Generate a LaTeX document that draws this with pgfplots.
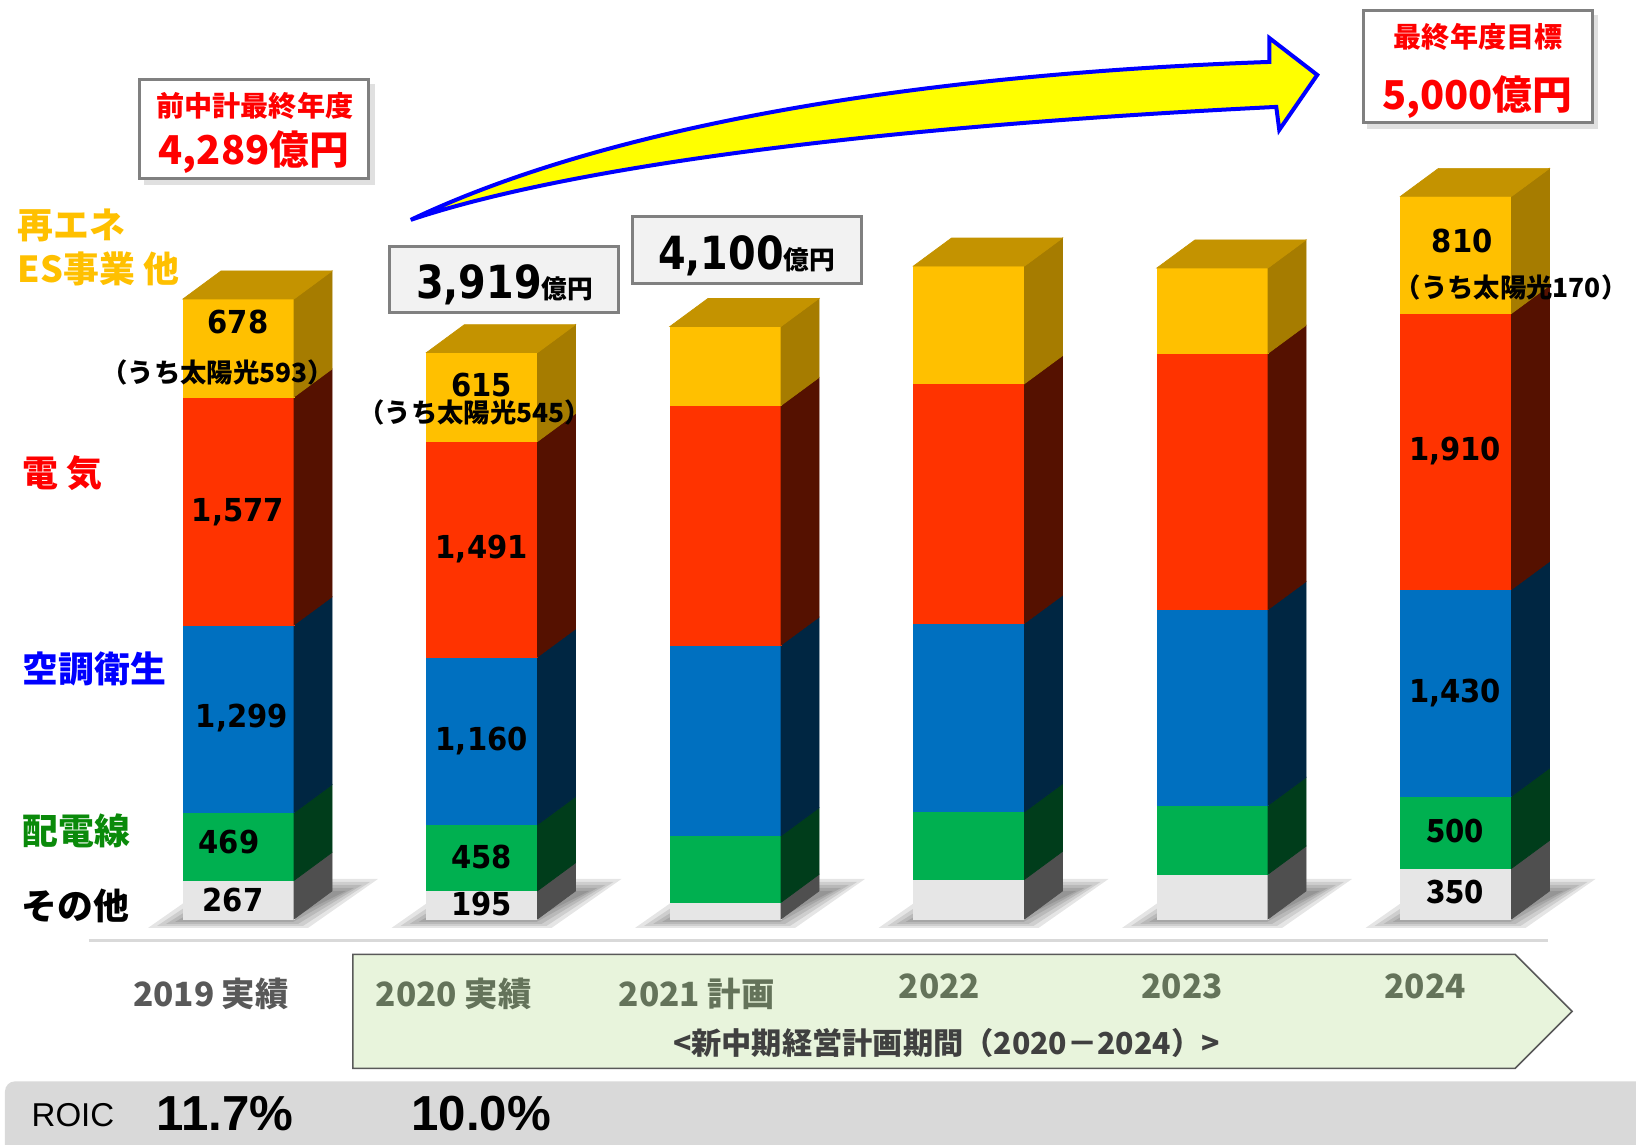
\documentclass[border=0pt]{standalone}
\usepackage{pgfplots}
\pgfplotsset{compat=1.18}
\usepackage{pgfplotstable}
\usepackage{fontspec}
\setmainfont{DejaVu Sans}
\newfontfamily\jp{Noto Sans CJK JP}
\newfontfamily\lib{Liberation Sans}

\definecolor{yF}{HTML}{FFC000}
\definecolor{yS}{HTML}{A67C00}
\definecolor{yT}{HTML}{C49300}
\definecolor{rF}{HTML}{FF3300}
\definecolor{rS}{HTML}{551100}
\definecolor{bF}{HTML}{0070C0}
\definecolor{bS}{HTML}{002642}
\definecolor{gF}{HTML}{00B050}
\definecolor{gS}{HTML}{003D1B}
\definecolor{oF}{HTML}{E6E6E6}
\definecolor{oS}{HTML}{4F4F4F}
\definecolor{boxB}{HTML}{808080}
\definecolor{boxF}{HTML}{F2F2F2}
\definecolor{pentF}{HTML}{E8F4DC}
\definecolor{pentT}{HTML}{64735A}
\definecolor{bandF}{HTML}{D9D9D9}
\definecolor{labG}{HTML}{0A8A0A}
\definecolor{arrY}{HTML}{FFFF00}
\definecolor{arrB}{HTML}{0000FF}

\pgfplotstableread{
row other dist hvac elec renew
0 267 469 1299 1577 678
1 195 458 1160 1491 615
2 115 461 1319 1658 547
3 274 468 1304 1658 814
4 310 476 1355 1773 591
5 350 500 1430 1910 810
}\sales

\newcommand\fs[1]{\fontsize{#1}{#1}\selectfont}
\def\hw{0.22793}
\def\ddx{0.15606}
\def\ddy{193.7}

\newcommand\segment[3]{%
  \pgfplotstablegetelem{\r}{#1}\of\sales
  \pgfmathsetmacro\lo{\cum}%
  \pgfmathsetmacro\hi{\cum+\pgfplotsretval}%
  \pgfmathsetmacro\lob{\lo+\ddy}%
  \pgfmathsetmacro\hib{\hi+\ddy}%
  \edef\tmp{%
    \noexpand\addplot[fill=#2,draw=#2,line width=0.2pt,forget plot] coordinates {(\xl,\lo) (\xr,\lo) (\xr,\hi) (\xl,\hi)} -- cycle;%
    \noexpand\addplot[fill=#3,draw=#3,line width=0.2pt,forget plot] coordinates {(\xr,\lo) (\xb,\lob) (\xb,\hib) (\xr,\hi)} -- cycle;%
  }\tmp
  \let\cum\hi
}
\newcommand\shadowlayer[1]{%
  \pgfmathsetmacro\sAx{\r-\hw+(-35+9*#1)/243.5}%
  \pgfmathsetmacro\sBx{\r-\hw+(125-5*#1)/243.5}%
  \pgfmathsetmacro\sCx{\r-\hw+(195-8*#1)/243.5}%
  \pgfmathsetmacro\sDx{\r-\hw+(35+5*#1)/243.5}%
  \pgfmathsetmacro\sLo{-(9-2*#1)/0.14452}%
  \pgfmathsetmacro\sHi{(40-3*#1)/0.14452}%
  \edef\tmp{\noexpand\addplot[fill=black,draw=none,fill opacity=0.1,forget plot] coordinates {(\sAx,\sLo) (\sBx,\sLo) (\sCx,\sHi) (\sDx,\sHi)} -- cycle;}%
  \tmp
}
\newcommand\num[1]{\scalebox{0.92}[1]{\bfseries\fs{9pt}#1}}
\newcommand\sub[1]{\jp\bfseries\fs{7.5pt}#1}

\begin{document}
\begin{tikzpicture}
\begin{axis}[
  width=16.36cm, height=11.45cm, scale only axis, hide axis, clip=false,
  xmin=-0.979466, xmax=5.739220, ymin=-1563.8, ymax=6359.0,
]
\coordinate (TL) at (rel axis cs:0,1);
\coordinate (BL) at (rel axis cs:0,0);
\coordinate (TR) at (rel axis cs:1,1);
% floor shadows
\pgfplotsforeachungrouped \r in {0,...,5}{%
  \shadowlayer{0}\shadowlayer{1}\shadowlayer{2}\shadowlayer{3}\shadowlayer{4}%
}
% 3D stacked bars
\pgfplotsforeachungrouped \r in {0,...,5}{%
  \pgfmathsetmacro\xl{\r-\hw}%
  \pgfmathsetmacro\xr{\r+\hw}%
  \pgfmathsetmacro\xb{\r+\hw+\ddx}%
  \pgfmathsetmacro\xlb{\r-\hw+\ddx}%
  \def\cum{0}%
  \segment{other}{oF}{oS}%
  \segment{dist}{gF}{gS}%
  \segment{hvac}{bF}{bS}%
  \segment{elec}{rF}{rS}%
  \segment{renew}{yF}{yS}%
  \pgfmathsetmacro\topb{\cum+\ddy}%
  \edef\tmp{\noexpand\addplot[fill=yT,draw=yT,line width=0.2pt,forget plot] coordinates {(\xl,\cum) (\xr,\cum) (\xb,\topb) (\xlb,\topb)} -- cycle;}\tmp
}
\end{axis}

\begin{scope}[shift={(TL)}, x=0.01cm, y=-0.01cm]
% arrow
\filldraw[fill=arrY, draw=arrB, line width=0.04cm, line join=miter]
  (411,220) .. controls (600,130) and (900,75) .. (1270,62) -- (1270,38) -- (1318,75)
  -- (1280,130) -- (1277,107) .. controls (850,128) and (560,170) .. (411,220) -- cycle;
% boxes
\fill[black,opacity=0.12] (144,84) rectangle (375,185);
\filldraw[fill=white, draw=boxB, line width=0.03cm] (140,80) rectangle (369,179);
\node[text=red, inner sep=0] at (255,106) {\jp\bfseries\fs{8pt}前中計最終年度};
\node[text=red, inner sep=0] at (254,152) {\jp\bfseries\fs{11.3pt}4,289億円};

\fill[black,opacity=0.12] (1368,15) rectangle (1599,129);
\filldraw[fill=white, draw=boxB, line width=0.03cm] (1364,11) rectangle (1593,123);
\node[text=red, inner sep=0] at (1479,37) {\jp\bfseries\fs{8pt}最終年度目標};
\node[text=red, inner sep=0] at (1478,97) {\jp\bfseries\fs{11.3pt}5,000億円};

\filldraw[fill=boxF, draw=boxB, line width=0.03cm] (390,247) rectangle (619,313);
\node[anchor=base, inner sep=0] at (505,299) {\scalebox{0.87}[1]{\bfseries\fs{13pt}3,919}\jp\bfseries\fs{7.3pt}億円};
\filldraw[fill=boxF, draw=boxB, line width=0.03cm] (633,217) rectangle (862,284);
\node[anchor=base, inner sep=0] at (747,270) {\scalebox{0.87}[1]{\bfseries\fs{13pt}4,100}\jp\bfseries\fs{7.3pt}億円};

% bar value labels
\node at (238,322) {\num{678}};
\node at (218,373) {\sub{（うち太陽光593）}};
\node at (238,513) {\num{1,577}};
\node at (242,718) {\num{1,299}};
\node at (229,843) {\num{469}};
\node at (233,901) {\num{267}};

\node at (482,385) {\num{615}};
\node at (475,413) {\sub{（うち太陽光545）}};
\node at (482,549) {\num{1,491}};
\node at (482,741) {\num{1,160}};
\node at (482,858) {\num{458}};
\node at (482,905) {\num{195}};

\node at (1463,241) {\num{810}};
\node[anchor=east, inner sep=0] at (1629,288) {\sub{（うち太陽光170）}};
\node at (1456,451) {\num{1,910}};
\node at (1456,693) {\num{1,430}};
\node at (1456,832) {\jp\bfseries\fs{9pt}500};
\node at (1456,893) {\jp\bfseries\fs{9pt}350};

% left category labels
\node[anchor=west, inner sep=0, text=yF] at (17,226) {\jp\bfseries\fs{10.2pt}再エネ};
\node[anchor=west, inner sep=0, text=yF] at (17,269) {\jp\bfseries\fs{10.2pt}ES事業 他};
\node[anchor=west, inner sep=0, text=red] at (22,473) {\jp\bfseries\fs{10.2pt}電 気};
\node[anchor=west, inner sep=0, text=blue] at (22,669) {\jp\bfseries\fs{10.2pt}空調衛生};
\node[anchor=west, inner sep=0, text=labG] at (22,831) {\jp\bfseries\fs{10.2pt}配電線};
\node[anchor=west, inner sep=0, text=black] at (21,906) {\jp\bfseries\fs{10.2pt}その他};

% bottom
\draw[bandF, line width=0.03cm] (89,941) -- (1549,941);
\node[text=black!65, inner sep=0] at (211,994) {\jp\bfseries\fs{9.5pt}2019 実績};
\filldraw[fill=pentF, draw=black!65, line width=0.015cm]
  (353,955) -- (1516,955) -- (1573,1012) -- (1516,1069) -- (353,1069) -- cycle;
\node[text=pentT, inner sep=0] at (454,994) {\jp\bfseries\fs{9.5pt}2020 実績};
\node[text=pentT, inner sep=0] at (697,994) {\jp\bfseries\fs{9.5pt}2021 計画};
\node[text=pentT, inner sep=0] at (940,987) {\jp\bfseries\fs{9.5pt}2022};
\node[text=pentT, inner sep=0] at (1183,987) {\jp\bfseries\fs{9.5pt}2023};
\node[text=pentT, inner sep=0] at (1426,987) {\jp\bfseries\fs{9.5pt}2024};
\node[text=black!75, inner sep=0] at (947,1044) {\jp\bfseries\fs{8.6pt}<新中期経営計画期間（2020－2024）>};

\fill[bandF, rounded corners=0.1cm] (5,1082) rectangle (1660,1170);
\node[anchor=west, inner sep=0] at (31,1116) {\lib\fs{9.4pt}ROIC};
\node[anchor=west, inner sep=0] at (156,1114) {\lib\bfseries\fs{14pt}11.7\%};
\node[anchor=west, inner sep=0] at (411,1114) {\lib\bfseries\fs{14pt}10.0\%};
\end{scope}
\pgfresetboundingbox
\useasboundingbox (BL) rectangle (TR);
\end{tikzpicture}
\end{document}
